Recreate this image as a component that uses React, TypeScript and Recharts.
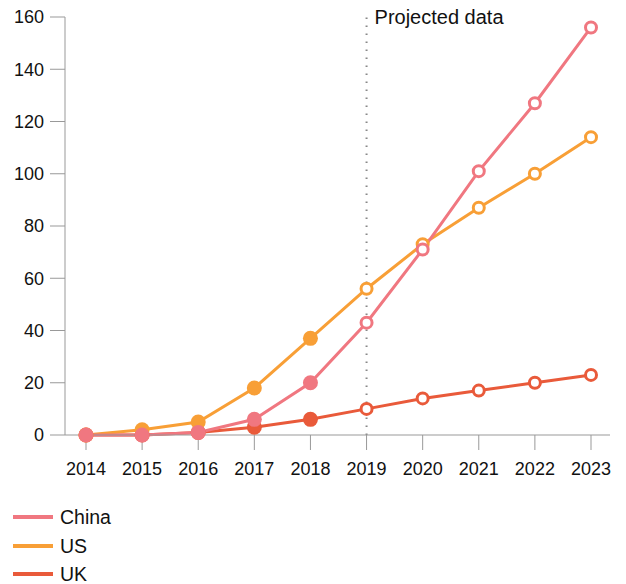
import React from 'react';
import { LineChart, Line, XAxis, YAxis, ReferenceLine } from 'recharts';

const years = [2014, 2015, 2016, 2017, 2018, 2019, 2020, 2021, 2022, 2023];
const china = [0, 0, 1, 6, 20, 43, 71, 101, 127, 156];
const us = [0, 2, 5, 18, 37, 56, 73, 87, 100, 114];
const uk = [0, 0, 1, 3, 6, 10, 14, 17, 20, 23];
const yTicks = [0, 20, 40, 60, 80, 100, 120, 140, 160];
const projectedFrom = 2019;

const SERIES = [
    { key: 'uk', name: 'UK', color: '#e95a3a' },
    { key: 'us', name: 'US', color: '#f89f36' },
    { key: 'china', name: 'China', color: '#f07780' },
];
const LEGEND = ['china', 'us', 'uk'];

const FONT = '"Liberation Sans", Arial, sans-serif';

const data = years.map((year, i) => ({ year, china: china[i], us: us[i], uk: uk[i] }));

// filled markers for actual data, hollow for projections
const makeDot = (color: string) => (props: any) => {
    const { cx, cy, payload, index } = props;
    if (cx == null || cy == null) return null;
    if (payload.year >= projectedFrom) {
        return <circle key={index} cx={cx} cy={cy} r={5.5} fill="#fff" stroke={color} strokeWidth={3} />;
    }
    return <circle key={index} cx={cx} cy={cy} r={7.5} fill={color} stroke="none" />;
};

export default function App() {
    return (
        <div style={{ position: 'absolute', left: 0, top: 0, width: 626, height: 584, background: '#fff', fontFamily: FONT, overflow: 'hidden' }}>
            <LineChart width={626} height={490} data={data} margin={{ top: 17, right: 16, bottom: 0, left: 0 }}>
                <XAxis
                    dataKey="year" type="number" domain={[2014, 2023]} ticks={years}
                    padding={{ left: 21, right: 19 }} height={55}
                    tickSize={15} tickMargin={12}
                    stroke="#999" tickLine={{ stroke: '#999' }}
                    tick={{ fill: '#111', fontSize: 18, fontFamily: FONT }}
                />
                <YAxis
                    domain={[0, 160]} ticks={yTicks} width={65}
                    tickSize={15} tickMargin={6}
                    stroke="#999" tickLine={{ stroke: '#999' }}
                    tick={{ fill: '#111', fontSize: 18, fontFamily: FONT }}
                />
                <ReferenceLine
                    x={projectedFrom} stroke="#888" strokeWidth={2} strokeDasharray="1.5 6.5"
                    label={(p: any) => (
                        <text x={p.viewBox.x + 8} y={p.viewBox.y + 7} fill="#111" fontSize={20} fontFamily={FONT}>
                            Projected data
                        </text>
                    )}
                />
                {SERIES.map((s) => (
                    <Line
                        key={s.key} dataKey={s.key} name={s.name} stroke={s.color} strokeWidth={3}
                        dot={makeDot(s.color)} activeDot={false} isAnimationActive={false}
                    />
                ))}
            </LineChart>
            <div style={{ position: 'absolute', left: 13, top: 503 }}>
                {LEGEND.map((k) => {
                    const s = SERIES.find((x) => x.key === k)!;
                    return (
                        <div key={k} style={{ display: 'flex', alignItems: 'center', height: 28.5 }}>
                            <div style={{ width: 40, height: 4, background: s.color, marginRight: 7 }} />
                            <span style={{ fontSize: 19.5, color: '#111', lineHeight: '28px' }}>{s.name}</span>
                        </div>
                    );
                })}
            </div>
        </div>
    );
}
